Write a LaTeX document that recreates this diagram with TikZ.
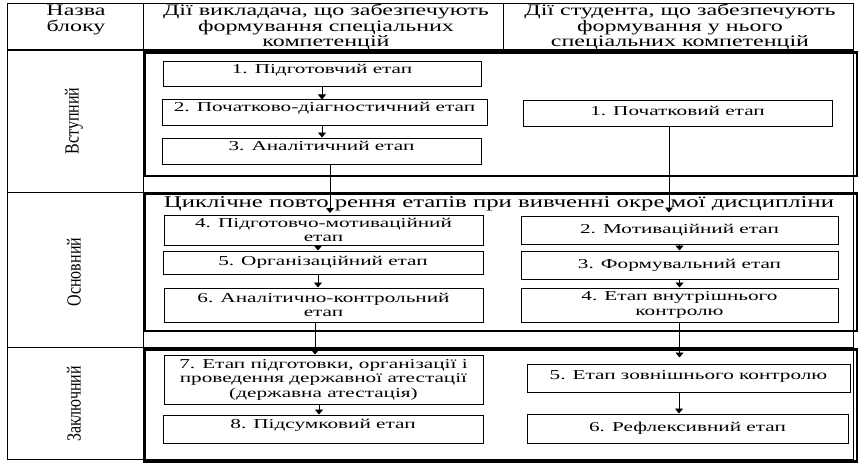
\documentclass[tikz,border=0pt]{standalone}
\usepackage{fontspec}
\setmainfont{Liberation Serif}[FakeStretch=1.5]
\newfontfamily\stagefont{Liberation Serif}[FakeStretch=1.56]
\newfontfamily\rotfont{Liberation Serif}[FakeStretch=0.8]
\usetikzlibrary{arrows.meta}
\begin{document}
\begin{tikzpicture}[x=1pt,y=-1pt,
  stage/.style={draw, line width=1pt, inner sep=0pt, align=center, font=\stagefont\fontsize{13.6}{14.5}\selectfont},
  up/.style={text height=9.5pt, text depth=3pt+2*#1},
  blk/.style={draw, line width=2.6pt},
  tbl/.style={draw, line width=0.9pt},
  arr/.style={-{Triangle[length=5pt,width=8pt]}, line width=0.9pt},
  hdr/.style={align=center, font=\fontsize{16}{15.2}\selectfont, inner sep=0pt},
  ttl/.style={font=\fontsize{16.5}{17}\selectfont, inner sep=0pt},
  rot/.style={rotate=90, font=\rotfont\fontsize{20}{20}\selectfont, inner sep=0pt}]
\useasboundingbox (0,0) rectangle (864,468);
% table
\draw[tbl] (7,3) rectangle (853,459);
\draw[tbl] (143,3) -- (143,459);
\draw[tbl] (503,3) -- (503,50);
\draw[line width=1.8pt] (7,50) -- (853,50);
\draw[tbl] (7,192) -- (853,192);
\draw[tbl] (7,347) -- (853,347);
% headers
\node[hdr] (h1) at (76,20) {Назва\\блоку};
\node[hdr] (h2) at (326,27) {Дії викладача, що забезпечують\\формування спеціальних\\компетенцій};
\node[hdr] (h3) at (680,27) {Дії студента, що забезпечують\\формування у нього\\спеціальних компетенцій};
% row labels
\node[rot] (r1) at (74,121) {Вступний};
\node[rot] (r2) at (74,272) {Основний};
\node[rot] (r3) at (74,404) {Заключний};
% block frames
\draw[blk] (144.5,52.5) rectangle (857,176);
\draw[blk] (144.5,193.5) rectangle (857,331);
\draw[blk] (144.5,349.5) rectangle (857,461.5);
\node[ttl] (title) at (499,204) {Циклічне повто рення етапів при вивченні окре мої дисципліни};
% teacher stages
\node[stage, up=4.5pt, minimum width=318pt, minimum height=25pt] (t1) at (322,74.5) {1. Підготовчий етап};
\node[stage, up=4.5pt, minimum width=325pt, minimum height=26pt] (t2) at (324.5,113) {2. Початково-діагностичний етап};
\node[stage, up=4pt, minimum width=319pt, minimum height=26pt] (t3) at (321.5,151) {3. Аналітичний етап};
\node[stage, minimum width=319pt, minimum height=30pt] (t4) at (323.5,230) {4. Підготовчо-мотиваційний\\етап};
\node[stage, minimum width=320pt, minimum height=23pt] (t5) at (323,262.5) {5. Організаційний етап};
\node[stage, minimum width=319pt, minimum height=34pt] (t6) at (323.5,305) {6. Аналітично-контрольний\\етап};
\node[stage, minimum width=319pt, minimum height=49pt] (t7) at (323.5,379.5) {7. Етап підготовки, організації і\\проведення державної атестації\\(державна атестація)};
\node[stage, up=3.5pt, minimum width=320pt, minimum height=28pt] (t8) at (323,429) {8. Підсумковий етап};
% student stages
\node[stage, up=2pt, minimum width=309pt, minimum height=26pt] (s1) at (677.5,114) {1. Початковий етап};
\node[stage, minimum width=317pt, minimum height=28pt] (s2) at (679.5,230) {2. Мотиваційний етап};
\node[stage, minimum width=317pt, minimum height=28pt] (s3) at (679.5,265) {3. Формувальний етап};
\node[stage, minimum width=317pt, minimum height=34pt] (s4) at (679.5,305) {4. Етап внутрішнього\\контролю};
\node[stage, up=2pt, minimum width=323pt, minimum height=28pt] (s5) at (688.5,378) {5. Етап зовнішнього контролю};
\node[stage, minimum width=321pt, minimum height=29pt] (s6) at (687.5,428.5) {6. Рефлексивний етап};
% connectors
\draw[arr] (t1.south) -- (t1.south |- t2.north);
\draw[arr] ([xshift=-2.5pt]t2.south) -- ([xshift=-2.5pt]t2.south |- t3.north);
\draw[arr, shorten >=1.5pt] ([xshift=8.5pt]t3.south) -- ([xshift=8.5pt]t3.south |- t4.north);
\draw[arr] ([xshift=-5.5pt]t4.south) -- ([xshift=-5.5pt]t4.south |- t5.north);
\draw[arr] ([xshift=-5pt]t5.south) -- ([xshift=-5pt]t5.south |- t6.north);
\draw[arr] ([xshift=-8.5pt]t6.south) -- ([xshift=-8.5pt]t6.south |- t7.north);
\draw[arr] ([xshift=-4.5pt]t7.south) -- ([xshift=-4.5pt]t7.south |- t8.north);
\draw[arr, shorten >=3pt] ([xshift=-8.5pt]s1.south) -- ([xshift=-8.5pt]s1.south |- s2.north);
\draw[arr] (s2.south) -- (s2.south |- s3.north);
\draw[arr] (s3.south) -- (s3.south |- s4.north);
\draw[arr, shorten >=6pt] (s4.south) -- (s4.south |- s5.north);
\draw[arr] ([xshift=-9.5pt]s5.south) -- ([xshift=-9.5pt]s5.south |- s6.north);
\end{tikzpicture}
\end{document}
